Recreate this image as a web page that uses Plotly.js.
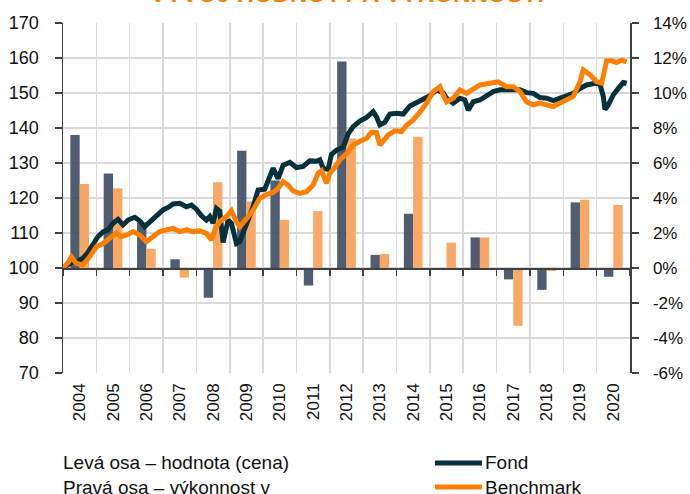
<!DOCTYPE html>
<html>
<head>
<meta charset="utf-8">
<script src="https://cdn.plot.ly/plotly-3.0.1.min.js"></script>
<style>html,body{margin:0;padding:0;background:#fff;}#chart{width:690px;height:494px;}</style>
</head>
<body>
<div id="chart"></div>
<script>
// Categories (years) and annual performance bars (%)
const years = ['2004','2005','2006','2007','2008','2009','2010','2011','2012','2013','2014','2015','2016','2017','2018','2019','2020'];
const fondPerf = [7.6, 5.4, 2.6, 0.5, -1.7, 6.7, 5.0, -1.0, 11.8, 0.75, 3.1, 0.0, 1.75, -0.65, -1.25, 3.75, -0.5];
const benchPerf = [4.8, 4.55, 1.1, -0.55, 4.9, 3.8, 2.75, 3.25, 7.4, 0.8, 7.5, 1.45, 1.75, -3.3, -0.17, 3.9, 3.6];

// Value series (left axis), time in years since start of 2004
const fondT = [0,0.15,0.3,0.45,0.6,0.75,0.9,1.05,1.2,1.35,1.5,1.65,1.8,1.95,2.15,2.3,2.45,2.6,2.8,3.0,3.15,3.3,3.5,3.7,3.85,4.0,4.15,4.3,4.4,4.5,4.6,4.7,4.8,4.85,4.95,5.05,5.2,5.3,5.4,5.55,5.7,5.85,6.05,6.2,6.3,6.45,6.6,6.8,7.0,7.2,7.4,7.6,7.7,7.8,7.95,8.05,8.2,8.4,8.55,8.7,8.9,9.1,9.3,9.4,9.5,9.65,9.8,10.0,10.2,10.4,10.6,10.8,11.0,11.2,11.4,11.5,11.7,11.9,12.05,12.15,12.3,12.5,12.7,12.9,13.1,13.4,13.7,13.9,14.1,14.3,14.5,14.7,14.9,15.1,15.3,15.5,15.7,15.95,16.1,16.2,16.25,16.35,16.5,16.65,16.8,16.9];
const fondV = [100,100.8,101.8,102.0,102.8,104.5,107,109,110.3,110.9,112.8,113.9,112.3,113.7,114.5,113.5,111.8,113.2,115.1,116.6,117.3,118.3,118.5,117.5,118,116.8,114.9,113.7,114.7,112.8,117,116.2,107.3,110,113.7,112.8,107,107.5,110,112.8,117.5,122.3,122.5,126.1,128.5,125.5,129.4,130.2,128.7,129,130.6,130.5,130.9,128.5,128.2,132.5,133.7,134.5,138.3,140.4,142,143,144.7,143.2,140.9,141.6,144,144.2,144,146.3,147.3,148.3,149.2,150.9,150,148.5,147.1,148.5,148,145.1,147.5,148,149.4,150.4,150.9,150.9,150.9,150.1,149.9,148.7,148.5,147.8,148.5,149.4,149.9,151.3,152.3,152.8,152.5,149,145.3,146.6,149.5,151.3,153,152.8];
const benchT = [0,0.15,0.25,0.4,0.6,0.8,1.0,1.2,1.4,1.6,1.75,1.9,2.1,2.3,2.5,2.7,2.9,3.1,3.3,3.5,3.7,3.9,4.1,4.3,4.45,4.55,4.7,4.9,5.05,5.2,5.3,5.5,5.7,5.9,6.1,6.3,6.45,6.6,6.75,6.9,7.1,7.3,7.5,7.65,7.75,7.9,8.0,8.15,8.3,8.5,8.7,8.9,9.1,9.25,9.4,9.5,9.6,9.75,9.95,10.15,10.3,10.5,10.7,10.9,11.1,11.3,11.4,11.5,11.7,11.9,12.1,12.25,12.5,12.8,13.05,13.3,13.5,13.7,13.9,14.1,14.3,14.5,14.7,14.9,15.1,15.3,15.5,15.6,15.8,16.0,16.15,16.3,16.45,16.6,16.75,16.9];
const benchV = [100,101.5,103.2,101.3,100.9,103.2,106.1,107,108.5,110,109,109.4,110.4,109.4,107.5,109,110.4,110.9,111.3,110.4,110.9,110.4,110.6,109.9,108,110.9,113.2,114.7,116.4,113.2,111.8,114,116.6,119.9,121,121.6,122.8,124.7,123.7,122,121.3,121.8,123.7,127.1,127.8,124.2,127,128.8,130.9,132.6,135.1,136.2,137,138.8,138.7,135.1,136.2,138,139.2,139,140.8,142.3,144.5,147.1,150.4,151.8,149.4,147.5,148.5,150.9,149.9,150.9,152.3,152.8,153.2,151.8,151.8,150.4,147.5,146.6,147.1,146.6,146.1,147.1,148,149,153.2,156.6,155.2,153.2,152.8,159.2,159.2,158.7,159.4,158.9];

// Axis tick labels and legend names
const leftTicks = [70,80,90,100,110,120,130,140,150,160,170];
const rightTicks = [-6,-4,-2,0,2,4,6,8,10,12,14];
const rightTickText = rightTicks.map(v => v + '%');
const boundaries = Array.from({length: years.length + 1}, (_, i) => i);
const seriesNames = ['Fond', 'Benchmark'];

const FONT = 'Arial, "Liberation Sans", sans-serif';
const AX = '#404040';
const FOND_LINE = '#06303C', BENCH_LINE = '#FF8000';

const traces = [
  {type:'bar', x: years, y: fondPerf, xaxis:'x', yaxis:'y', marker:{color:'#44546A', opacity:0.95}, showlegend:false, hoverinfo:'skip'},
  {type:'bar', x: years, y: benchPerf, xaxis:'x', yaxis:'y', marker:{color:'#F9A866'}, showlegend:false, hoverinfo:'skip'},
  {type:'scatter', mode:'lines', name: seriesNames[0], x: fondT, y: fondV, xaxis:'x2', yaxis:'y2', line:{color: FOND_LINE, width:5}, showlegend:false},
  {type:'scatter', mode:'lines', name: seriesNames[1], x: benchT, y: benchV, xaxis:'x2', yaxis:'y2', line:{color: BENCH_LINE, width:5}, showlegend:false}
];

// manual legend (bottom right)
const legY = [-0.257, -0.326];
const legShapes = [FOND_LINE, BENCH_LINE].map((c, i) => ({
  type:'line', xref:'paper', yref:'paper', x0: 0.656, x1: 0.739, y0: legY[i], y1: legY[i],
  line:{color: c, width: 5}
}));
const legTexts = seriesNames.map((n, i) => ({
  xref:'paper', yref:'paper', x: 0.741, y: legY[i], xanchor:'left', yanchor:'middle', showarrow:false,
  text: n, font:{size: 19, color:'#111'}
}));

const layout = {
  width: 690, height: 494,
  margin: {l: 63, r: 60, t: 23, b: 121, pad: 0},
  paper_bgcolor: '#fff', plot_bgcolor: '#fff',
  font: {family: FONT, color: '#111', size: 18},
  barmode: 'group', bargap: 0.44, bargroupgap: 0,
  showlegend: false,
  xaxis: {
    type: 'category', categoryorder: 'array', categoryarray: years, range: [-0.5, 16.5],
    tickson: 'boundaries', showgrid: true, gridcolor: '#d9d9d9', gridwidth: 1.5,
    ticks: '', showline: false, zeroline: false,
    tickangle: -90, tickfont: {size: 17, color: '#111'}, ticklabelstandoff: 6
  },
  xaxis2: {
    overlaying: 'x', anchor: 'free', position: 0.3, range: [0, 17],
    tickmode: 'array', tickvals: boundaries, showticklabels: false,
    ticks: 'outside', ticklen: 6, tickwidth: 1.5, tickcolor: AX,
    showline: true, linecolor: AX, linewidth: 1.5, showgrid: false, zeroline: false
  },
  yaxis: {
    side: 'right', range: [-6, 14], tickmode: 'array', tickvals: rightTicks, ticktext: rightTickText,
    showgrid: true, gridcolor: '#d9d9d9', gridwidth: 1.5, zeroline: false,
    showline: true, linecolor: AX, linewidth: 1.5, ticks: 'outside', ticklen: 7, tickwidth: 1.5, tickcolor: AX,
    ticklabelstandoff: 11, tickfont: {size: 17, color: '#111'}
  },
  yaxis2: {
    overlaying: 'y', side: 'left', anchor: 'x', range: [70, 170], tickmode: 'array', tickvals: leftTicks,
    showgrid: false, zeroline: false,
    showline: true, linecolor: AX, linewidth: 1.5, ticks: 'outside', ticklen: 7, tickwidth: 1.5, tickcolor: AX,
    ticklabelstandoff: 12, tickfont: {size: 18, color: '#111'}
  },
  shapes: legShapes,
  annotations: [
    {xref:'paper', yref:'paper', x: 0.5, y: 1.04, xanchor:'center', yanchor:'bottom', showarrow:false,
     text:'<b>VÝVOJ HODNOTY A VÝKONNOSTI</b>', font:{size: 24, color:'#FF8000', family: FONT}},
    {xref:'paper', yref:'paper', x: 0, y: legY[0], xanchor:'left', yanchor:'middle', showarrow:false, xshift:-2,
     text:'Levá osa – hodnota (cena)', font:{size: 19, color:'#111'}},
    {xref:'paper', yref:'paper', x: 0, y: legY[1], xanchor:'left', yanchor:'middle', showarrow:false, xshift:-2,
     text:'Pravá osa – výkonnost v', font:{size: 19, color:'#111'}}
  ].concat(legTexts)
};

Plotly.newPlot('chart', traces, layout, {staticPlot: true, displayModeBar: false});
</script>
</body>
</html>
